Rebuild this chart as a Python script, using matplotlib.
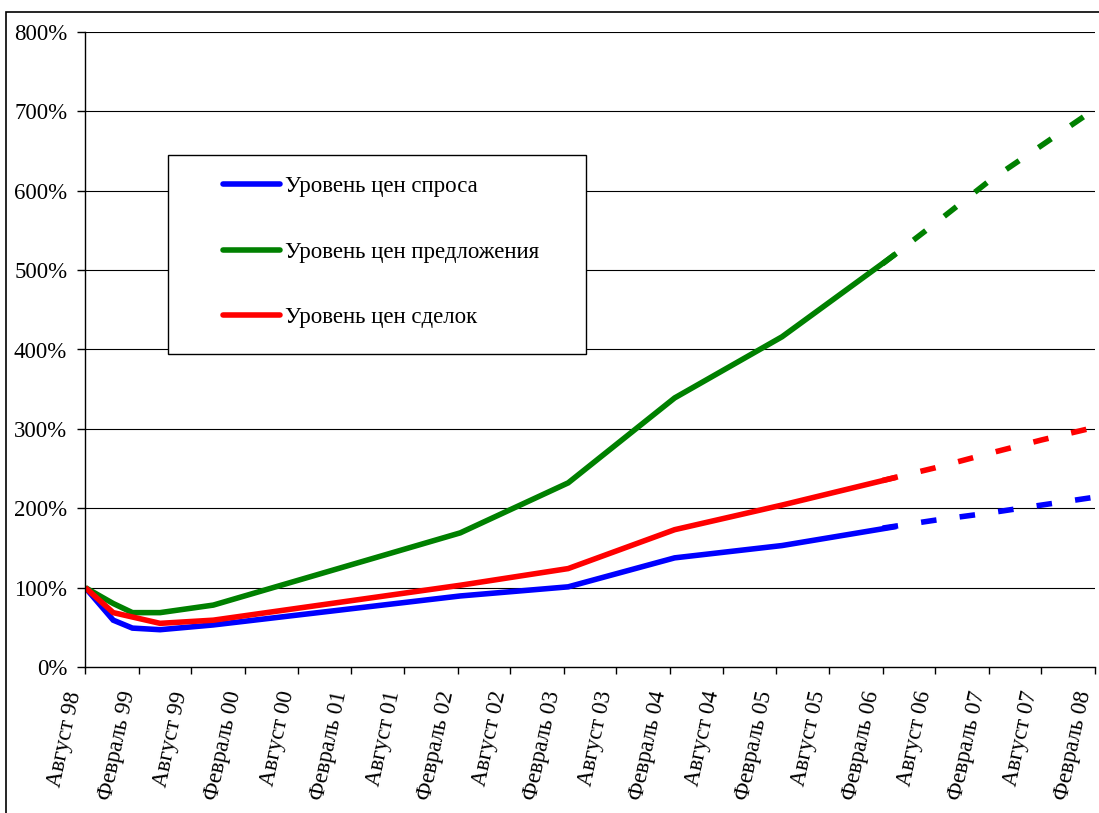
import matplotlib
matplotlib.use("Agg")
import matplotlib.pyplot as plt
from matplotlib.patches import Rectangle
import numpy as np
import pandas as pd

plt.rcParams['font.family'] = ['Liberation Serif', 'DejaVu Serif']

# ---- data ----
tick_labels = ["Август 98", "Февраль 99", "Август 99", "Февраль 00", "Август 00",
               "Февраль 01", "Август 01", "Февраль 02", "Август 02", "Февраль 03",
               "Август 03", "Февраль 04", "Август 04", "Февраль 05", "Август 05",
               "Февраль 06", "Август 06", "Февраль 07", "Август 07", "Февраль 08"]
tick_dates = pd.date_range("1998-08-01", "2008-02-01", freq="6MS")

actual_dates = pd.to_datetime(["1998-08-01", "1998-11-05", "1999-01-10", "1999-04-15",
                               "1999-10-15", "2002-02-10", "2003-02-16", "2004-02-17",
                               "2005-02-20", "2006-03-20"])
demand = [100, 59, 49, 47, 53, 89.5, 101, 137.5, 153, 177]
supply = [100, 80, 68.5, 68.5, 78, 169, 232, 339, 416, 521]
deals = [100, 68.5, 63, 55, 59, 103, 124, 173, 204, 239]

forecast_dates = pd.to_datetime(["2006-02-01", "2006-08-01", "2007-02-01",
                                 "2007-08-01", "2008-02-01"])
demand_fc = [175, 185, 194, 204, 214]
supply_fc = [508, 559, 612, 657, 703]
deals_fc = [235, 251, 269, 286, 302]

names = ["Уровень цен спроса", "Уровень цен предложения", "Уровень цен сделок"]
colors = ["#0000FF", "#008000", "#FF0000"]

# ---- figure ----
W, H = 1099, 813
fig = plt.figure(figsize=(W / 100, H / 100), dpi=100)
ax = fig.add_axes([85.3 / W, (H - 667) / H, (1095 - 85.3) / W, (667 - 32) / H])

lw = 4.0
for fc, c in zip([demand_fc, supply_fc, deals_fc], colors):
    ax.plot(forecast_dates, fc, color=c, lw=lw, linestyle=(0, (2.8, 4.2)),
            dash_capstyle='butt', clip_on=False)
for vals, name, c in zip([demand, supply, deals], names, colors):
    ax.plot(actual_dates, vals, color=c, lw=lw, label=name,
            solid_capstyle='butt', solid_joinstyle='miter')

FS = 16.5
ax.set_xlim(tick_dates[0], tick_dates[-1])
ax.set_ylim(0, 800)
ax.set_yticks(np.arange(0, 801, 100))
ax.set_yticklabels([f"{v}%" for v in range(0, 801, 100)], fontsize=FS)
ax.set_xticks(tick_dates)
ax.set_xticklabels(tick_labels, fontsize=FS, rotation=78, ha='right', va='top')
ax.tick_params(axis='y', length=6, width=1, pad=7, direction='out')
ax.tick_params(axis='x', length=5, width=1, pad=11, direction='out')

for v in range(100, 801, 100):
    ax.axhline(v, color='black', lw=0.8, zorder=0)

for s in ['top', 'right']:
    ax.spines[s].set_visible(False)
for s in ['left', 'bottom']:
    ax.spines[s].set_linewidth(1.0)
    ax.spines[s].set_color('black')

# legend box
x0, x1 = (168 - 85.3) / 1009.7, (586 - 85.3) / 1009.7
y0, y1 = (667 - 354) / 635, (667 - 155) / 635
ax.add_patch(Rectangle((x0, y0), x1 - x0, y1 - y0, transform=ax.transAxes,
                       facecolor='white', edgecolor='black', lw=1.0, zorder=5))
handles, labels = ax.get_legend_handles_labels()
leg = ax.legend(handles, labels, loc='upper left',
                bbox_to_anchor=((223 - 85.3) / 1009.7, (667 - 176) / 635),
                frameon=False, fontsize=FS, handlelength=2.5, handletextpad=0.2,
                labelspacing=1.95, borderpad=0, borderaxespad=0)
for lh in leg.get_lines():
    lh.set_linewidth(4)
    lh.set_solid_capstyle('round')
leg.set_zorder(6)

# outer frame
fig.add_artist(Rectangle((6 / W, -0.05), 1.2, (H - 12) / H + 0.05,
                         transform=fig.transFigure, fill=False, lw=1.2,
                         edgecolor='black'))

fig.savefig("out.png", dpi=100)
